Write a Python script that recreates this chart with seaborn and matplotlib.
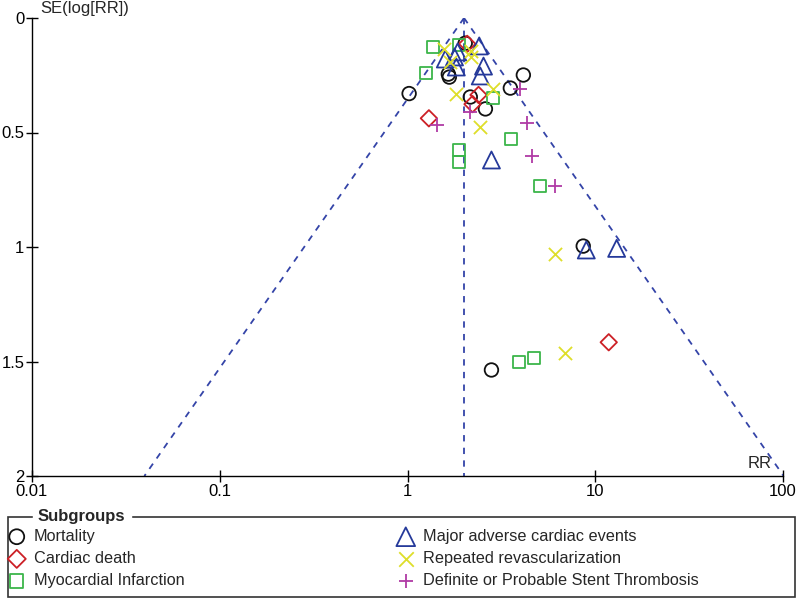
import numpy as np
import pandas as pd
import matplotlib
matplotlib.use("Agg")
import matplotlib.pyplot as plt
from matplotlib.patches import Rectangle
import seaborn as sns

# data (RR, SE of log RR) per subgroup
mortality_rr = [2.03, 1.65, 1.67, 1.02, 4.14, 3.53, 2.16, 2.60, 8.63, 2.80]
mortality_se = [0.11, 0.245, 0.258, 0.33, 0.249, 0.306, 0.345, 0.397, 0.996, 1.537]

cardiac_rr = [2.08, 2.39, 2.22, 1.30, 11.8]
cardiac_se = [0.113, 0.336, 0.376, 0.438, 1.416]

mi_rr = [1.37, 1.89, 1.25, 2.86, 3.57, 1.87, 1.87, 5.06, 3.91, 4.70]
mi_se = [0.128, 0.12, 0.239, 0.351, 0.53, 0.576, 0.630, 0.732, 1.504, 1.486]

mace_rr = [2.41, 1.85, 1.78, 1.59, 1.82, 2.54, 2.44, 2.80, 8.96, 13.0]
mace_se = [0.122, 0.148, 0.17, 0.179, 0.214, 0.21, 0.253, 0.62, 1.013, 1.006]

revasc_rr = [1.57, 2.19, 2.19, 1.69, 1.82, 2.87, 2.44, 6.13, 6.93]
revasc_se = [0.135, 0.144, 0.17, 0.192, 0.332, 0.31, 0.476, 1.031, 1.463]

stent_rr = [3.99, 2.16, 1.44, 4.35, 4.62, 6.13]
stent_se = [0.31, 0.41, 0.467, 0.459, 0.603, 0.734]

pooled_rr = 2.0

x_ticks = [0.01, 0.1, 1, 10, 100]
x_tick_labels = ["0.01", "0.1", "1", "10", "100"]
y_ticks = [0, 0.5, 1, 1.5, 2]
y_tick_labels = ["0", "0.5", "1", "1.5", "2"]

sns.set_theme(style="white")
plt.rcParams["font.family"] = ["Liberation Sans", "DejaVu Sans"]

fig = plt.figure(figsize=(8, 6.03), dpi=100)
ax = fig.add_axes([32 / 800, 1 - 476 / 603, (783 - 32) / 800, (476 - 18) / 603])

# funnel lines (95% limits around pooled estimate)
se_line = np.linspace(0, 2, 50)
line_col = "#3444a8"
dash = (0, (3.5, 3.5))
ax.plot([pooled_rr, pooled_rr], [0, 2], color=line_col, lw=1.3, ls=dash)
ax.plot(pooled_rr * np.exp(-1.96 * se_line), se_line, color=line_col, lw=1.3, ls=dash)
ax.plot(pooled_rr * np.exp(1.96 * se_line), se_line, color=line_col, lw=1.3, ls=dash)

groups = [
    ("Mortality", mortality_rr, mortality_se, "o", "#111111", 95, True),
    ("Cardiac death", cardiac_rr, cardiac_se, "D", "#cc2026", 70, True),
    ("Myocardial Infarction", mi_rr, mi_se, "s", "#3bb54a", 75, True),
    ("Major adverse cardiac events", mace_rr, mace_se, "^", "#25399a", 150, True),
    ("Repeated revascularization", revasc_rr, revasc_se, "x", "#dede2a", 90, False),
    ("Definite or Probable Stent Thrombosis", stent_rr, stent_se, "+", "#b03aa5", 90, False),
]

for name, rr, se, mk, col, size, filled in groups:
    df = pd.DataFrame({"RR": rr, "SE": se})
    if filled:
        sns.scatterplot(data=df, x="RR", y="SE", marker=mk, s=size, facecolors="none",
                        edgecolor=col, linewidth=1.3, ax=ax, label=name, zorder=3)
    else:
        sns.scatterplot(data=df, x="RR", y="SE", marker=mk, s=size, color=col,
                        linewidth=1.3, ax=ax, label=name, zorder=3)

ax.set_xscale("log")
ax.set_xlim(0.01, 100)
ax.set_ylim(2, 0)
ax.set_xticks(x_ticks)
ax.set_xticklabels(x_tick_labels)
ax.set_yticks(y_ticks)
ax.set_yticklabels(y_tick_labels)
ax.minorticks_off()
ax.set_xlabel("")
ax.set_ylabel("")
ax.tick_params(axis="both", direction="inout", length=9, width=1, color="black",
               labelsize=12, labelcolor="black", pad=1, left=True, bottom=True)
for side in ["top", "right"]:
    ax.spines[side].set_visible(False)
for side in ["left", "bottom"]:
    ax.spines[side].set_color("black")
    ax.spines[side].set_linewidth(1)

fig.text(40 / 800, 1 - 9 / 603, "SE(log[RR])", fontsize=12, va="center", ha="left")
ax.text(0.985, 0.012, "RR", transform=ax.transAxes, fontsize=12, ha="right", va="bottom")

# legend box with title on the border
handles, labels = ax.get_legend_handles_labels()
ax.get_legend().remove()
box = Rectangle((8 / 800, 1 - 597 / 603), (795 - 8) / 800, (597 - 517) / 603,
                transform=fig.transFigure, fill=False, edgecolor="#333333", lw=1.2)
fig.patches.append(box)
fig.text(38 / 800, 1 - 517 / 603, "Subgroups", fontsize=12, fontweight="bold",
         ha="left", va="center", backgroundcolor="white")

leg_kw = dict(loc="upper left", frameon=False, fontsize=11.7, handletextpad=0.45,
              handlelength=1.2, labelspacing=0.44, markerscale=1.1,
              borderaxespad=0, borderpad=0)
fig.legend(handles[:3], labels[:3], bbox_to_anchor=(7 / 800, 1 - 529 / 603), **leg_kw)
fig.legend(handles[3:], labels[3:], bbox_to_anchor=(396 / 800, 1 - 529 / 603), **leg_kw)

fig.savefig("out.png", dpi=100)
